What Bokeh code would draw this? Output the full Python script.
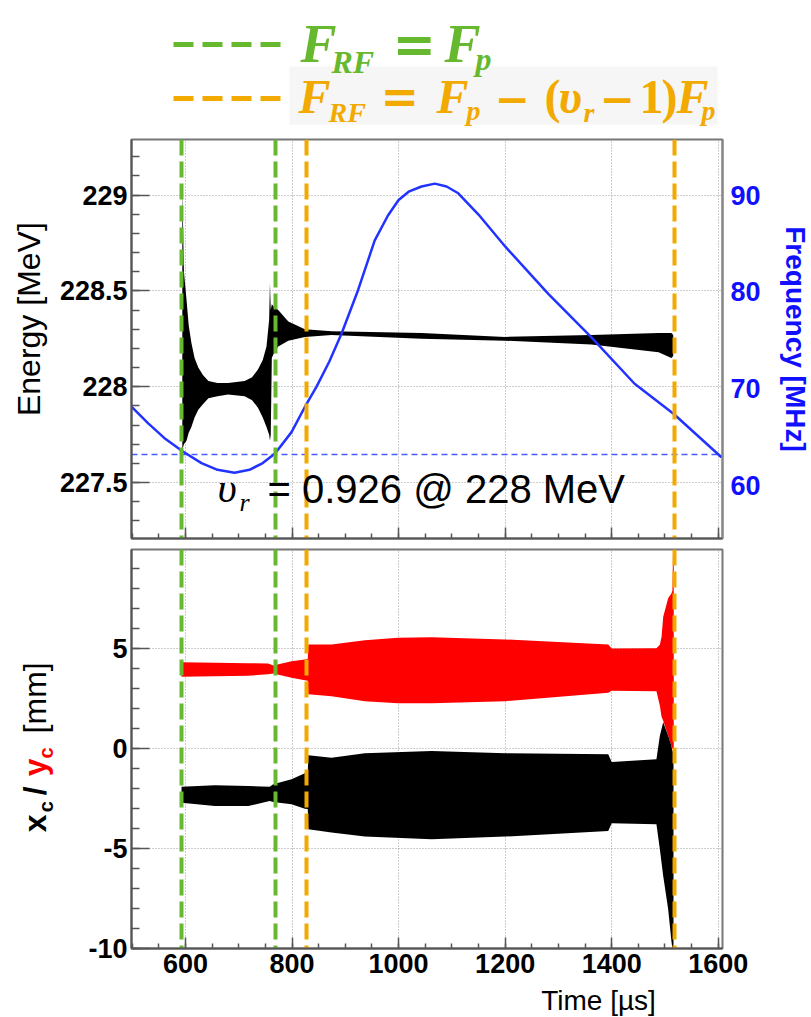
import math
from bokeh.plotting import figure
from bokeh.layouts import gridplot
from bokeh.models import (Range1d, LinearAxis, SingleIntervalTicker,
                          CustomJSTickFormatter, Label)
from bokeh.embed import file_html
from bokeh.resources import INLINE

# ---------------- data ----------------
# RF frequency program (right axis, MHz)
freq_time = [499, 530, 560, 595, 630, 660, 692, 720, 745, 768, 799, 824, 846,
             870, 893, 924, 955, 980, 1000, 1020, 1043, 1068, 1090, 1112, 1150,
             1200, 1281, 1362, 1443, 1516, 1606]
freq_mhz = [68.1, 66.4, 64.9, 63.5, 62.3, 61.6, 61.3, 61.6, 62.3, 63.3, 65.5,
            68.1, 70.2, 72.8, 75.7, 80.2, 85.3, 87.9, 89.5, 90.4, 90.9, 91.2,
            90.9, 90.2, 88.0, 84.7, 79.8, 75.3, 70.5, 67.4, 62.9]
freq_ref = 63.2          # horizontal dashed reference frequency

# Beam energy oscillation envelope (MeV)
energy_time = [594.0, 595.0, 597.0, 602.0, 606.0, 611.0, 617.0, 624.0, 633.0,
               643.0, 660.0, 680.0, 711.0, 725.0, 736.0, 745.0, 752.0, 757.0,
               758.5, 760.0, 762.0, 765.0, 774.0, 793.0, 824.0, 874.0, 1043.0,
               1200.0, 1362.0, 1488.0, 1512.0, 1515.5]
energy_upper = [229.05, 228.90, 228.60, 228.45, 228.32, 228.23, 228.15, 228.10,
                228.06, 228.03, 228.02, 228.02, 228.03, 228.05, 228.09, 228.14,
                228.21, 228.35, 228.54, 228.40, 228.43, 228.42, 228.40, 228.34,
                228.30, 228.29, 228.28, 228.26, 228.27, 228.28, 228.28, 228.27]
energy_lower = [227.66, 227.68, 227.70, 227.72, 227.76, 227.79, 227.84, 227.88,
                227.91, 227.94, 227.95, 227.96, 227.95, 227.93, 227.89, 227.84,
                227.79, 227.75, 227.72, 227.75, 228.15, 228.17, 228.21, 228.24,
                228.26, 228.27, 228.25, 228.24, 228.22, 228.18, 228.15, 228.16]

# y_c envelope (mm, red)
yc_time = [592.5, 655, 718, 755, 764.6, 799, 824, 829.5, 830.5, 874, 936.6,
           999, 1062, 1200, 1393.5, 1400, 1484, 1490.4, 1493.6, 1496.7, 1506,
           1512, 1514, 1515.5, 1516.5]
yc_upper = [4.33, 4.30, 4.28, 4.27, 4.17, 4.38, 4.47, 4.50, 5.22, 5.22, 5.43,
            5.55, 5.58, 5.47, 5.22, 5.02, 5.03, 5.20, 5.60, 6.60, 7.53, 7.77,
            7.90, 10.5, 10.5]
yc_lower = [3.60, 3.63, 3.65, 3.72, 3.77, 3.55, 3.43, 3.40, 2.72, 2.63, 2.38,
            2.27, 2.27, 2.38, 2.80, 2.90, 2.88, 2.15, 1.60, 1.40, 0.65, 0.15,
            0.00, -0.05, -0.10]

# x_c envelope (mm, black)
xc_time = [592.5, 655, 718, 758, 764.6, 799, 824, 829.5, 830.5, 874, 936.6,
           1062, 1200, 1393.5, 1400, 1484, 1490.4, 1496.7, 1506, 1512, 1514, 1516]
xc_upper = [-1.90, -1.83, -1.87, -1.90, -1.78, -1.53, -1.23, -1.20, -0.33,
            -0.45, -0.23, -0.12, -0.23, -0.28, -0.67, -0.53, 0.65, 1.32, 0.65,
            0.15, -0.10, -0.20]
xc_lower = [-2.70, -2.87, -2.87, -2.62, -2.67, -2.78, -3.00, -3.02, -4.03,
            -4.20, -4.40, -4.53, -4.40, -4.12, -3.73, -3.78, -5.03, -6.37,
            -8.03, -9.60, -10.03, -10.10]

# resonance-crossing markers (time, us)
rf_equal_times = [593, 768]        # F_RF = F_p
rf_shift_times = [828, 1517]       # F_RF = F_p - (v_r - 1) F_p

time_ticks_interval = 200
energy_ticks_interval = 0.5
freq_ticks_interval = 10
pos_ticks_interval = 5

# ---------------- styling ----------------
GREEN = "#66b82e"
ORANGE = "#f2a900"
BLUE = "#2233ff"
AXBLUE = "#1010ff"
SANS = "Liberation Sans"
SERIF = "Liberation Serif"
SYMB = "DejaVu Sans"

X_RANGE = (498.6, 1608.0)
E_RANGE = (227.208, 229.29)
F_RANGE = (54.5, 95.76)
P_RANGE = (-10.0, 9.97)

LEFT_COL = 56            # width of the column holding the rotated titles
BORDER_L = 74            # panel left border (tick labels) -> frame starts at x=130
BORDER_R = 88            # panel right border (frequency axis)
FRAME_W = 591
FRAME_H = 399
HEAD_H = 138
BOT_B = 36
FOOT_H = 32
MID = 0.35               # baseline offset of a "middle"-anchored text, in em


def t_of(xr):            # page pixel x -> time (for text placement)
    return 600 + (xr - 184) / 0.5327


def e_of(yr):            # page pixel y -> energy (top panel)
    return 229 - (yr - 195) / 191.6


def v_of(yr):            # page pixel y -> mm (bottom panel)
    return (749.3 - yr) / 20.0


def style_axis(ax, color="black", size="27px", standoff=4):
    ax.major_label_text_font = SANS
    ax.major_label_text_font_style = "bold"
    ax.major_label_text_font_size = size
    ax.major_label_text_color = color
    ax.major_label_standoff = standoff
    ax.axis_line_color = "#555555"
    ax.axis_line_width = 2
    ax.major_tick_line_color = "#555555"
    ax.minor_tick_line_color = "#555555"
    ax.major_tick_line_width = 1.5
    ax.minor_tick_line_width = 1.5
    ax.major_tick_out = 0
    ax.minor_tick_out = 0


def style_grid(p):
    for g in (p.xgrid[0], p.ygrid[0]):
        g.grid_line_color = "#9a9a9a"
        g.grid_line_dash = "1 2"
        g.grid_line_width = 1


def blank(width, height, xr, yr, top=0, bottom=0, left=0, right=0):
    return figure(frame_width=width, frame_height=height, x_range=Range1d(*xr),
                  y_range=Range1d(*yr), x_axis_type=None, y_axis_type=None,
                  toolbar_location=None, output_backend="svg",
                  min_border_left=left, min_border_right=right,
                  min_border_top=top, min_border_bottom=bottom,
                  outline_line_color=None)


# ---------------- header (legend) ----------------
FL = LEFT_COL + BORDER_L
header = blank(FRAME_W, HEAD_H, (FL, FL + FRAME_W), (0, HEAD_H),
               left=BORDER_L, right=BORDER_R)


def hy(yr):              # page y -> header data y
    return HEAD_H - yr


header.quad(left=288, right=716, bottom=hy(124), top=hy(66),
            fill_color="#f6f6f6", line_color=None)
header.line(x=[172, 281], y=[hy(44), hy(44)], line_color=GREEN,
            line_width=5, line_dash="20 9")
header.line(x=[172, 281], y=[hy(98), hy(98)], line_color=ORANGE,
            line_width=5, line_dash="20 9")

BI = "bold italic"
# (text, x, baseline y, size, style, font)
green_pieces = [("F", 299, 62, 54, BI, SERIF), ("RF", 330, 73, 32, BI, SERIF),
                ("=", 391, 62, 52, "bold", SYMB), ("F", 443, 62, 54, BI, SERIF),
                ("p", 474, 70, 32, BI, SERIF)]
orange_pieces = [("F", 297, 113, 48, BI, SERIF), ("RF", 327, 122, 28, BI, SERIF),
                 ("=", 379, 113, 46, "bold", SYMB), ("F", 435, 113, 48, BI, SERIF),
                 ("p", 465, 120, 28, BI, SERIF), ("\u2212", 493, 113, 42, "bold", SYMB),
                 ("(", 543, 113, 48, "bold", SERIF), ("\u03c5", 557, 113, 48, BI, SERIF),
                 ("r", 582, 122, 28, BI, SERIF), ("\u2212", 598, 113, 42, "bold", SYMB),
                 ("1", 638, 113, 48, "bold", SERIF), (")", 660, 113, 48, "bold", SERIF),
                 ("F", 675, 113, 48, BI, SERIF), ("p", 700, 120, 28, BI, SERIF)]
for pieces, col in ((green_pieces, GREEN), (orange_pieces, ORANGE)):
    for txt, xr, yb, fs, st, fnt in pieces:
        header.add_layout(Label(x=xr, y=hy(yb - MID * fs), text=txt, text_font=fnt,
                                text_font_size=f"{fs}px", text_font_style=st,
                                text_color=col, text_align="left",
                                text_baseline="middle"))

# ---------------- top panel: energy / frequency ----------------
top = figure(frame_width=FRAME_W, frame_height=FRAME_H, x_range=Range1d(*X_RANGE),
             y_range=Range1d(*E_RANGE), toolbar_location=None,
             output_backend="svg", min_border_left=BORDER_L,
             min_border_right=BORDER_R, min_border_top=1, min_border_bottom=10)
top.outline_line_color = "#777777"
top.outline_line_width = 2
top.extra_y_ranges = {"freq": Range1d(*F_RANGE)}

top.varea(x=energy_time, y1=energy_lower, y2=energy_upper, fill_color="black")
top.hspan(y=[freq_ref], y_range_name="freq", line_color="#4a5cff",
          line_width=1.5, line_dash="6 4")
top.line(freq_time, freq_mhz, y_range_name="freq", line_color=BLUE, line_width=2.5)
top.vspan(x=rf_equal_times, line_color=GREEN, line_width=4, line_dash="16 6")
top.vspan(x=rf_shift_times, line_color=ORANGE, line_width=4, line_dash="16 6")

top.xaxis.ticker = SingleIntervalTicker(interval=time_ticks_interval, num_minor_ticks=4)
top.yaxis.ticker = SingleIntervalTicker(interval=energy_ticks_interval, num_minor_ticks=5)
top.yaxis.formatter = CustomJSTickFormatter(code="return String(Math.round(tick*10)/10)")
style_axis(top.yaxis[0], standoff=4)
style_axis(top.xaxis[0])
top.yaxis.major_tick_in = 18
top.yaxis.minor_tick_in = 8
top.xaxis.major_tick_in = 11
top.xaxis.minor_tick_in = 5
top.xaxis.major_label_text_font_size = "1px"
top.xaxis.major_label_text_color = None
top.xaxis.major_label_standoff = 0
style_grid(top)

fax = LinearAxis(y_range_name="freq",
                 ticker=SingleIntervalTicker(interval=freq_ticks_interval, num_minor_ticks=0))
style_axis(fax, color=AXBLUE, standoff=8)
fax.axis_line_color = "#888888"
fax.major_tick_in = 0
fax.minor_tick_in = 0
fax.major_tick_line_color = None
fax.minor_tick_line_color = None
fax.axis_label = "Frequency [MHz]"
fax.axis_label_text_font = SANS
fax.axis_label_text_font_style = "bold"
fax.axis_label_text_font_size = "28px"
fax.axis_label_text_color = AXBLUE
fax.axis_label_standoff = 16
top.add_layout(fax, "right")

for txt, xr, yb, fs, st, fnt in [("\u03c5", 216, 503, 42, "italic", SERIF),
                                 ("r", 238, 511, 26, "italic", SERIF),
                                 ("= 0.926 @ 228 MeV", 266, 503, 40, "normal", SANS)]:
    top.add_layout(Label(x=t_of(xr), y=e_of(yb - MID * fs), text=txt, text_font=fnt,
                         text_font_style=st, text_font_size=f"{fs}px",
                         text_color="black", text_align="left",
                         text_baseline="middle"))

# energy axis title (left column)
elab = blank(LEFT_COL, FRAME_H, (0, LEFT_COL), E_RANGE, top=1, bottom=10)
elab.add_layout(Label(x=28, y=e_of(319), text="Energy [MeV]", angle=math.pi / 2,
                      text_font=SANS, text_font_size="32px", text_align="center",
                      text_baseline="middle", text_color="black"))

# ---------------- bottom panel: x_c / y_c ----------------
bot = figure(frame_width=FRAME_W, frame_height=FRAME_H, x_range=top.x_range,
             y_range=Range1d(*P_RANGE), toolbar_location=None,
             output_backend="svg", min_border_left=BORDER_L,
             min_border_right=BORDER_R, min_border_top=1, min_border_bottom=BOT_B)
bot.outline_line_color = "#777777"
bot.outline_line_width = 2

bot.varea(x=yc_time, y1=yc_lower, y2=yc_upper, fill_color="#ff0000")
bot.varea(x=xc_time, y1=xc_lower, y2=xc_upper, fill_color="black")
bot.vspan(x=rf_equal_times, line_color=GREEN, line_width=4, line_dash="16 6")
bot.vspan(x=rf_shift_times, line_color=ORANGE, line_width=4, line_dash="16 6")

bot.xaxis.ticker = SingleIntervalTicker(interval=time_ticks_interval, num_minor_ticks=4)
bot.yaxis.ticker = SingleIntervalTicker(interval=pos_ticks_interval, num_minor_ticks=5)
bot.yaxis.formatter = CustomJSTickFormatter(code="return tick.toFixed(0)")
style_axis(bot.xaxis[0], standoff=5)
style_axis(bot.yaxis[0], standoff=4)
bot.yaxis.major_tick_in = 18
bot.yaxis.minor_tick_in = 8
bot.xaxis.major_tick_in = 11
bot.xaxis.minor_tick_in = 5
style_grid(bot)

# x_c / y_c axis title (left column), pieces in two colours, reading upwards
ylab = blank(LEFT_COL, FRAME_H, (0, LEFT_COL), P_RANGE, top=1, bottom=BOT_B)
# (text, baseline x, start y, size, style, colour)
ylab_pieces = [("x", 46, 833, 32, "bold", "black"), ("c", 52, 813, 20, "bold", "black"),
               ("/", 46, 796, 32, "bold", "black"), ("y", 46, 777, 32, "bold", "#ff0000"),
               ("c", 52, 759, 20, "bold", "#ff0000"), ("[mm]", 46, 734, 32, "normal", "black")]
for txt, xb, ys, fs, st, col in ylab_pieces:
    ylab.add_layout(Label(x=xb - MID * fs, y=v_of(ys), text=txt, angle=math.pi / 2,
                          text_font=SANS, text_font_size=f"{fs}px", text_font_style=st,
                          text_color=col, text_align="left", text_baseline="middle"))

# ---------------- footer: time axis title ----------------
footer = blank(FRAME_W, FOOT_H, (FL, FL + FRAME_W), (0, FOOT_H),
               left=BORDER_L, right=BORDER_R)
footer.add_layout(Label(x=597, y=FOOT_H / 2, text="Time [\u00b5s]",
                        text_font=SANS, text_font_size="28px", text_align="center",
                        text_baseline="middle", text_color="black"))

grid = gridplot([[None, header], [elab, top], [ylab, bot], [None, footer]],
                toolbar_location=None)
open("out.html", "w").write(file_html(grid, INLINE))
